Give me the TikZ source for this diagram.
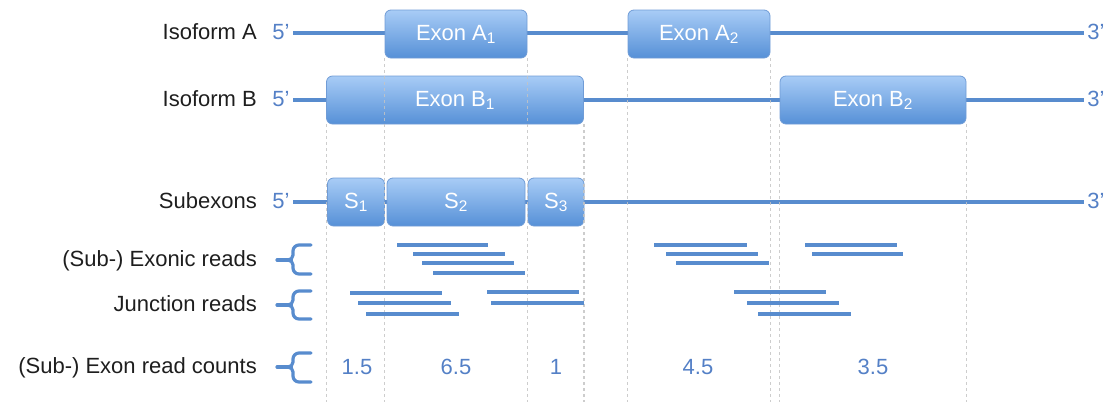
\documentclass[tikz,border=0pt]{standalone}
\usepackage{fontspec}
\setmainfont{Liberation Sans}
\begin{document}
\definecolor{strand}{RGB}{88,140,206}
\definecolor{endtext}{RGB}{84,128,198}
\definecolor{boxtop}{RGB}{168,204,246}
\definecolor{boxbot}{RGB}{86,144,215}
\definecolor{boxline}{RGB}{112,156,214}
\definecolor{guide}{RGB}{196,196,196}
\definecolor{labeltext}{RGB}{30,30,30}
\begin{tikzpicture}[x=1pt,y=-1pt,
  every node/.style={font=\fontsize{22}{24}\selectfont},
  rowlabel/.style={anchor=mid east,text=labeltext,inner sep=0pt,yshift=-4pt},
  endlabel/.style={anchor=mid,text=endtext,inner sep=0pt,yshift=-4pt},
  countlabel/.style={anchor=mid,text=endtext,inner sep=0pt,yshift=-4pt},
  exonbox/.style={shade,top color=boxtop,bottom color=boxbot,draw=boxline,
    line width=0.8pt,rounded corners=6pt,inner sep=0pt,text=white,
    minimum height=48pt,text height=16pt,text depth=4pt},
  strandline/.style={draw=strand,line width=3.2pt},
  readline/.style={draw=strand,line width=3.4pt},
  bracket/.style={draw=strand,line width=3.2pt,line cap=round},
  guideline/.style={draw=guide,line width=1.2pt,dash pattern=on 3pt off 3pt,opacity=0.85}]

\useasboundingbox (0,0) rectangle (1110,402);

% row labels
\node[rowlabel] (lA) at (257,33) {Isoform A};
\node[rowlabel] (lB) at (257,100) {Isoform B};
\node[rowlabel] (lS) at (257,202) {Subexons};
\node[rowlabel] (lE) at (257,260) {(Sub-) Exonic reads};
\node[rowlabel] (lJ) at (257,305) {Junction reads};
\node[rowlabel] (lC) at (257,367) {(Sub-) Exon read counts};

% 5' and 3' ends
\node[endlabel] (fA) at (281,33) {5'};
\node[endlabel] (tA) at (1096,33) {3'};
\node[endlabel] (fB) at (281,100) {5'};
\node[endlabel] (tB) at (1096,100) {3'};
\node[endlabel] (fS) at (281,202) {5'};
\node[endlabel] (tS) at (1096,202) {3'};

% backbone strands
\draw[strandline] (293,33) coordinate (sA) -- (1084,33) coordinate (eA);
\draw[strandline] (293,100) coordinate (sB) -- (1084,100) coordinate (eB);
\draw[strandline] (293,202) coordinate (sS) -- (1084,202) coordinate (eS);

% exons of isoform A
\node[exonbox,minimum width=142pt] (A1) at (456,34) {Exon A\textsubscript{1}};
\node[exonbox,minimum width=142pt] (A2) at (699,34) {Exon A\textsubscript{2}};
% exons of isoform B
\node[exonbox,minimum width=257pt] (B1) at (455,100) {Exon B\textsubscript{1}};
\node[exonbox,minimum width=186pt] (B2) at (873,100) {Exon B\textsubscript{2}};
% subexons
\node[exonbox,minimum width=57pt] (S1) at (356,202) {S\textsubscript{1}};
\node[exonbox,minimum width=138pt] (S2) at (456,202) {S\textsubscript{2}};
\node[exonbox,minimum width=56pt] (S3) at (556,202) {S\textsubscript{3}};

% exon boundary guides
\coordinate (base) at (0,402);
\foreach \n/\a in {A1/south west,A1/south east,A2/south west,A2/south east,
                   B1/south west,B1/south east,B2/south west,B2/south east}
  \draw[guideline] (\n.\a) -- (\n.\a |- base);

% brackets
\foreach \r/\t/\m/\b in {E/245/260/274, J/291/305/319, C/353/367/382}{
  \draw[bracket] (311,\t) -- (299,\t) to[out=180,in=90] (293,\t+6)
    -- (293,\m-5) to[out=-90,in=0] (288,\m) to[out=0,in=90] (293,\m+5)
    -- (293,\b-6) to[out=-90,in=180] (299,\b) -- (311,\b);
  \draw[bracket] (277,\m) -- (288,\m);
}

% exonic reads
\foreach \xa/\xb/\y in {397/488/245, 413/505/254, 422/514/263, 433/525/273,
                        654/747/245, 666/758/254, 676/769/263,
                        805/897/245, 812/903/254}
  \draw[readline] (\xa,\y) -- (\xb,\y);

% junction reads
\foreach \xa/\xb/\y in {350/442/293, 358/451/303, 366/459/314,
                        487/579/292, 491/584/303,
                        734/826/292, 747/839/303, 758/851/314}
  \draw[readline] (\xa,\y) -- (\xb,\y);

% read counts
\node[countlabel] (c1) at (357,368) {1.5};
\node[countlabel] (c2) at (456,368) {6.5};
\node[countlabel] (c3) at (556,368) {1};
\node[countlabel] (c4) at (698,368) {4.5};
\node[countlabel] (c5) at (873,368) {3.5};
\end{tikzpicture}
\end{document}
